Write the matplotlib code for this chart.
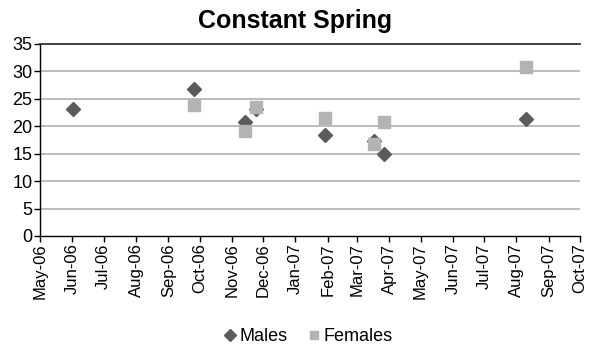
import datetime

import matplotlib
matplotlib.use('Agg')
import matplotlib.pyplot as plt
import matplotlib.dates as mdates

# Sampling dates and values
male_dates = ['2006-06-02', '2006-09-26', '2006-11-14', '2006-11-24',
              '2007-01-29', '2007-03-17', '2007-03-27', '2007-08-10']
male_values = [23.2, 26.8, 20.7, 23.1, 18.4, 17.3, 15.0, 21.3]

female_dates = ['2006-09-26', '2006-11-14', '2006-11-24', '2007-01-29',
                '2007-03-17', '2007-03-27', '2007-08-10']
female_values = [23.9, 19.1, 23.5, 21.5, 16.8, 20.8, 30.8]

y_ticks = [0, 5, 10, 15, 20, 25, 30, 35]

plt.rcParams['font.family'] = ['Liberation Sans', 'DejaVu Sans']


def to_dates(values):
    return [datetime.datetime.strptime(v, '%Y-%m-%d') for v in values]


fig = plt.figure(figsize=(5.9, 3.46), dpi=100)
ax = fig.add_axes([0.068, 0.318, 0.915, 0.555])

# Gridlines
for y in y_ticks[1:-1]:
    ax.axhline(y, color='#aaaaaa', linewidth=1.1, zorder=1)

ax.plot(to_dates(male_dates), male_values, linestyle='none', marker='D',
        markersize=7.5, color='#5b5b5b', label='Males', zorder=3)
ax.plot(to_dates(female_dates), female_values, linestyle='none', marker='s',
        markersize=8.5, color='#b3b3b3', label='Females', zorder=4)

ax.set_xlim(datetime.datetime(2006, 5, 1), datetime.datetime(2007, 10, 1))
ax.set_ylim(0, 35)
ax.set_yticks(y_ticks)

ax.xaxis.set_major_locator(mdates.MonthLocator())
ax.xaxis.set_major_formatter(mdates.DateFormatter('%b-%y'))
plt.setp(ax.get_xticklabels(), rotation=90, fontsize=12)
plt.setp(ax.get_yticklabels(), fontsize=13)
ax.tick_params(axis='both', direction='out', length=4, width=1, color='black', pad=1.5)

ax.spines['right'].set_visible(False)
ax.spines['top'].set_color('#333333')
ax.spines['top'].set_linewidth(1.3)
for s in ('left', 'bottom'):
    ax.spines[s].set_color('black')
    ax.spines[s].set_linewidth(1.0)

fig.suptitle('Constant Spring', fontsize=18, fontweight='bold', y=0.975)

fig.legend(loc='lower center', ncol=2, frameon=False, fontsize=13,
           bbox_to_anchor=(0.52, -0.045), handletextpad=0.0, columnspacing=1.0,
           handlelength=1.0, markerscale=0.75)

plt.savefig('out.png', dpi=100)
